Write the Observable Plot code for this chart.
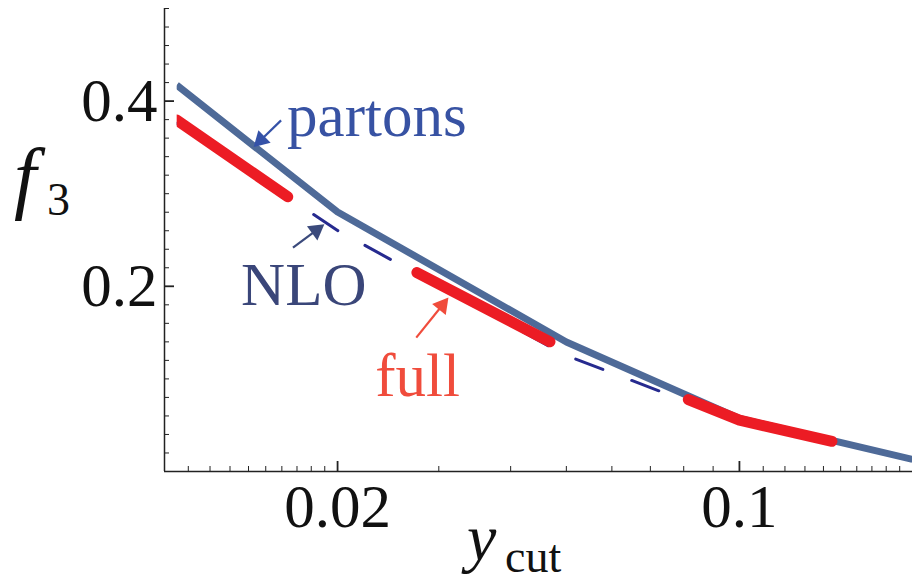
<!DOCTYPE html>
<html><head><meta charset="utf-8">
<script src="https://cdn.jsdelivr.net/npm/d3@7"></script>
<script src="https://cdn.jsdelivr.net/npm/@observablehq/plot@0.6"></script>
<style>
body{margin:0;background:#fff;}
#wrap{position:relative;width:912px;height:582px;overflow:hidden;}
</style></head><body><div id="wrap"></div>
<script>
// data
const ycut = [0.0105, 0.02, 0.05, 0.1, 0.2];
const partons = [0.4173, 0.2802, 0.1399, 0.0573, 0.0130];
const full = [0.3795, 0.2594, 0.1309, 0.0554, 0.0127];
const nlo = [0.3760, 0.2603, 0.1252, 0.0540, 0.0130];

const xMajor = [0.02, 0.1];
const xMinor = [0.011, 0.012, 0.013, 0.014, 0.015, 0.016, 0.017, 0.018, 0.019,
                0.03, 0.04, 0.05, 0.06, 0.07, 0.08, 0.09,
                0.11, 0.12, 0.13, 0.14, 0.15, 0.16, 0.17, 0.18, 0.19];
const yMajor = [0.2, 0.4];
const yMinor = [0.02, 0.04, 0.06, 0.08, 0.1, 0.12, 0.14, 0.16, 0.18,
                0.22, 0.24, 0.26, 0.28, 0.3, 0.32, 0.34, 0.36, 0.38,
                0.42, 0.44, 0.46, 0.48, 0.5];

const labelText = ["partons", "NLO", "full"];
const labelX = [0.01634, 0.01359, 0.02326];
const labelY = [0.3837, 0.2010, 0.1031];
const labelColor = ["#3752a3", "#3a4679", "#f04c3c"];
const arrowX1 = [0.01595, 0.01673, 0.02741];
const arrowY1 = [0.3792, 0.2418, 0.1446];
const arrowX2 = [0.01429, 0.01897, 0.03118];
const arrowY2 = [0.3504, 0.2669, 0.1878];
const arrowColor = ["#3552a8", "#3b4a7c", "#f04c3c"];

const curves = ycut.map((x, i) => ({x, partons: partons[i], full: full[i], nlo: nlo[i]}));
const labels = labelText.map((t, i) => ({t, x: labelX[i], y: labelY[i], c: labelColor[i]}));

const headR = 6.5;

function build(arrows) {
  return Plot.plot({
    width: 912, height: 582,
    marginLeft: 164, marginRight: 0, marginTop: 8, marginBottom: 111,
    style: {fontFamily: "'Liberation Serif', serif", fontSize: "60px", background: "#fff"},
    x: {type: "log", domain: [0.01, 0.2], axis: null},
    y: {domain: [0, 0.5], axis: null},
    color: {type: "identity"},
    marks: [
      Plot.axisY(yMinor, {tickSize: -5, tickFormat: () => "", label: null, strokeWidth: 1, stroke: "#222"}),
      Plot.axisY(yMajor, {tickSize: -10, tickPadding: 17, tickFormat: d => String(d), label: null, strokeWidth: 1.8, stroke: "#222", fill: "#111", fontSize: 61}),
      Plot.axisX(xMinor, {tickSize: -5, tickFormat: () => "", label: null, strokeWidth: 1, stroke: "#222"}),
      Plot.axisX(xMajor, {tickSize: -10, tickPadding: 22, tickFormat: d => String(d), label: null, strokeWidth: 1.8, stroke: "#222", fill: "#111", fontSize: 61}),
      Plot.ruleX([0.01], {stroke: "#222", strokeWidth: 1.5}),
      Plot.ruleY([0], {stroke: "#222", strokeWidth: 1.5}),
      Plot.line(curves, {x: "x", y: "nlo", stroke: "#262a8f", strokeWidth: 3, strokeDasharray: "29,30.9", strokeDashoffset: 15.1, strokeLinecap: "round"}),
      Plot.line(curves, {x: "x", y: "partons", stroke: "#4e6a98", strokeWidth: 7, strokeLinecap: "butt", strokeLinejoin: "round"}),
      Plot.line(curves, {x: "x", y: "full", stroke: "#ec1c24", strokeWidth: 11, strokeDasharray: "150,150", strokeDashoffset: 15, strokeLinecap: "round", strokeLinejoin: "round"}),
      Plot.link(arrows, {x1: "x1", y1: "y1", x2: "hx", y2: "hy", stroke: "c", strokeWidth: 2.2}),
      Plot.dot(arrows, {x: "hx", y: "hy", symbol: "triangle", r: headR, fill: "c", stroke: null, rotate: "rot"}),
      Plot.text(labels, {x: "x", y: "y", text: "t", fill: "c", textAnchor: "start", fontSize: 61})
    ]
  });
}

// first pass to get the scales, then place filled arrow heads along each arrow
let arrows = arrowX1.map((x1, i) => ({x1, y1: arrowY1[i], hx: arrowX2[i], hy: arrowY2[i], c: arrowColor[i], rot: 0}));
const probe = build(arrows);
const sx = probe.scale("x"), sy = probe.scale("y");
arrows = arrows.map((a, i) => {
  const px1 = sx.apply(a.x1), py1 = sy.apply(a.y1);
  const px2 = sx.apply(arrowX2[i]), py2 = sy.apply(arrowY2[i]);
  const dx = px2 - px1, dy = py2 - py1, L = Math.hypot(dx, dy);
  const back = 1.555 * headR; // triangle tip lies this far ahead of its centre
  const cx = px2 - dx / L * back, cy = py2 - dy / L * back;
  return {...a, hx: sx.invert(cx), hy: sy.invert(cy), rot: Math.atan2(dx, -dy) * 180 / Math.PI};
});
const plot = build(arrows);

// clip the curves at their first abscissa (flat start like the reference)
const x0 = plot.scale("x").apply(ycut[0]);
const svg = d3.select(plot);
svg.insert("defs", ":first-child").append("clipPath").attr("id", "curveClip")
  .append("rect").attr("x", x0).attr("y", 0).attr("width", 912 - x0).attr("height", 582);
svg.selectAll('g[aria-label="line"]').attr("clip-path", "url(#curveClip)");

// axis titles
const t1 = svg.append("text").attr("x", 14).attr("y", 204).attr("fill", "#111").attr("text-anchor", "start")
  .style("font-family", "'Liberation Serif', serif");
t1.append("tspan").style("font-style", "italic").style("font-size", "80px").text("f");
t1.append("tspan").attr("x", 47).attr("y", 215).style("font-size", "46px").text("3");
const t2 = svg.append("text").attr("x", 467).attr("y", 560).attr("fill", "#111").attr("text-anchor", "start")
  .style("font-family", "'Liberation Serif', serif");
t2.append("tspan").style("font-style", "italic").style("font-size", "66px").text("y");
t2.append("tspan").attr("x", 505).attr("y", 572).style("font-size", "46px").text("cut");

document.getElementById("wrap").appendChild(plot);
</script>
</body></html>
